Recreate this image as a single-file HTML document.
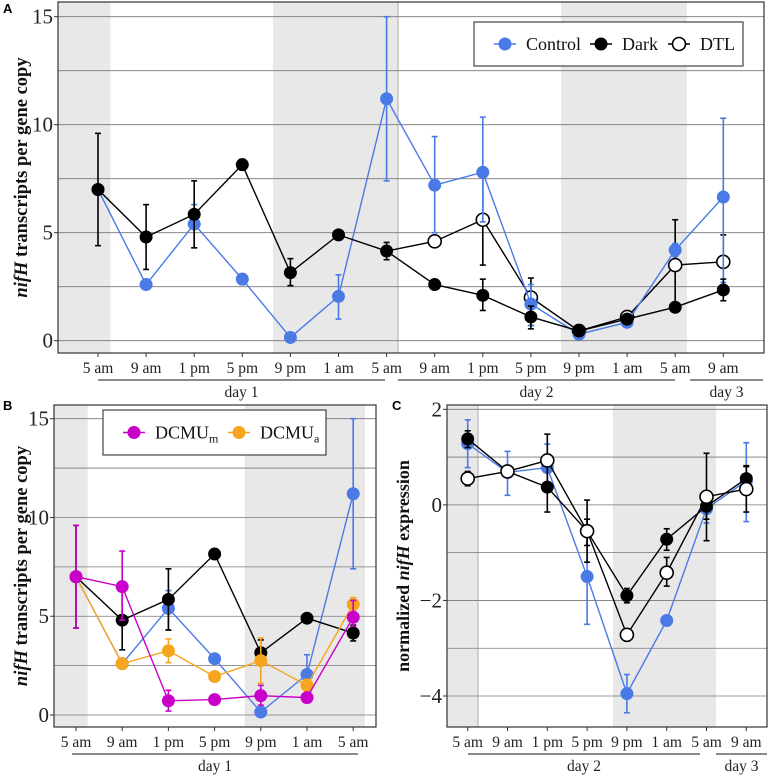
<!DOCTYPE html>
<html><head><meta charset="utf-8">
<style>
html,body{margin:0;padding:0;background:#fff;}
svg text{font-family:"Liberation Serif",serif;}
</style></head>
<body>
<svg id="fig" width="770" height="775" viewBox="0 0 770 775" xmlns="http://www.w3.org/2000/svg"></svg>
<script>
// ---------- data ----------
const timeLabelsA = ["5 am","9 am","1 pm","5 pm","9 pm","1 am","5 am","9 am","1 pm","5 pm","9 pm","1 am","5 am","9 am"];
const controlA = [7.0,2.6,5.4,2.85,0.15,2.05,11.2,7.2,7.8,1.7,0.3,0.85,4.2,6.65];
const controlALo = [null,null,4.3,2.6,null,1.0,7.4,5.0,5.5,0.7,null,null,3.9,2.7];
const controlAHi = [null,null,6.3,3.1,null,3.05,15.0,9.45,10.35,2.6,null,null,4.5,10.3];
const darkA = [7.0,4.8,5.85,8.15,3.15,4.9,4.15,2.6,2.1,1.1,0.45,1.0,1.55,2.35];
const darkALo = [4.4,3.3,4.3,7.9,2.55,null,3.75,null,1.4,0.55,null,null,null,1.85];
const darkAHi = [9.6,6.3,7.4,8.4,3.8,null,4.55,null,2.85,1.6,null,null,null,2.85];
const dtlA = [null,null,null,null,null,null,4.15,4.6,5.6,2.0,0.45,1.1,3.5,3.65];
const dtlALo = [null,null,null,null,null,null,null,null,3.5,0.7,null,null,1.5,2.5];
const dtlAHi = [null,null,null,null,null,null,null,null,7.7,2.9,null,null,5.6,4.9];
const yTicksA = [0,5,10,15];

const timeLabelsB = ["5 am","9 am","1 pm","5 pm","9 pm","1 am","5 am"];
const controlB = [7.0,2.6,5.4,2.85,0.15,2.05,11.2];
const controlBLo = [null,null,4.3,2.6,null,1.0,7.4];
const controlBHi = [null,null,6.3,3.1,null,3.05,15.0];
const darkB = [7.0,4.8,5.85,8.15,3.15,4.9,4.15];
const darkBLo = [4.4,3.3,4.3,7.9,2.55,null,3.75];
const darkBHi = [9.6,6.3,7.4,8.4,3.8,null,4.55];
const dcmuM = [7.0,6.5,0.72,0.78,0.98,0.88,4.95];
const dcmuMLo = [4.4,4.8,0.2,null,0.5,null,4.5];
const dcmuMHi = [9.6,8.3,1.25,null,1.5,null,5.8];
const dcmuA = [7.0,2.6,3.25,1.95,2.75,1.5,5.6];
const dcmuALo = [null,null,2.65,null,1.6,1.2,5.3];
const dcmuAHi = [null,null,3.85,null,3.9,1.8,5.95];
const yTicksB = [0,5,10,15];

const timeLabelsC = ["5 am","9 am","1 pm","5 pm","9 pm","1 am","5 am","9 am"];
const controlC = [1.28,0.68,0.78,-1.5,-3.95,-2.42,-0.08,0.5];
const controlCLo = [0.78,0.2,0.3,-2.5,-4.35,null,-0.38,-0.35];
const controlCHi = [1.78,1.12,1.27,-0.3,-3.55,null,0.2,1.3];
const darkC = [1.38,0.7,0.37,-0.55,-1.9,-0.72,-0.03,0.55];
const darkCLo = [1.2,null,-0.15,-0.85,-2.05,-0.95,-0.3,0.3];
const darkCHi = [1.55,null,0.9,-0.3,-1.75,-0.5,0.25,0.82];
const dtlC = [0.55,0.7,0.93,-0.55,-2.72,-1.42,0.17,0.33];
const dtlCLo = [0.4,null,0.4,-1.2,-2.85,-1.7,-0.75,-0.15];
const dtlCHi = [0.7,null,1.48,0.1,-2.6,-1.1,1.08,0.8];
const yTicksC = [-4,-2,0,2];

// ---------- helpers ----------
const NS="http://www.w3.org/2000/svg";
const svg=document.getElementById('fig');
function mk(tag,attrs,parent){const e=document.createElementNS(NS,tag);for(const k in attrs)e.setAttribute(k,attrs[k]);(parent||svg).appendChild(e);return e;}
const BLUE="#4a7ae6",BLACK="#000",MAG="#c800c8",ORG="#f5a51e";
const R=6.5;

function panel(cfg){
  const g=mk('g',{});
  
  
  const X=i=>cfg.x0+i*cfg.dx;
  const Y=v=>cfg.yA+(v-cfg.vA)*(cfg.yB-cfg.yA)/(cfg.vB-cfg.vA);
  cfg.shade.forEach(s=>{const r=mk('rect',{x:s[0],y:cfg.top,width:s[1]-s[0],height:cfg.bottom-cfg.top,fill:'#e8e8e8'},g);
    });
  cfg.grid.forEach(v=>{const l=mk('line',{x1:cfg.left,x2:cfg.right,y1:Y(v),y2:Y(v),stroke:'#777','stroke-width':0.8},g);
    });
  if(cfg.vline) mk('line',{x1:cfg.vline,x2:cfg.vline,y1:cfg.top,y2:cfg.bottom,stroke:'#999','stroke-width':0.8},g);
  mk('rect',{x:cfg.left,y:cfg.top,width:cfg.right-cfg.left,height:cfg.bottom-cfg.top,fill:'none',stroke:'#333','stroke-width':1.2},g);
  cfg.yticks.forEach(v=>{
    mk('line',{x1:cfg.left-4,x2:cfg.left,y1:Y(v),y2:Y(v),stroke:'#333'},g);
    const t=mk('text',{x:cfg.left-5,y:Y(v)+7,'text-anchor':'end','font-size':21,fill:'#222'},g);
    t.textContent=(v<0?'\u2212'+(-v):String(v));
    
  });
  cfg.labels.forEach((lab,i)=>{
    mk('line',{x1:X(i),x2:X(i),y1:cfg.bottom,y2:cfg.bottom+4,stroke:'#333'},g);
    const t=mk('text',{x:X(i),y:cfg.bottom+20,'text-anchor':'middle','font-size':15.5,fill:'#222'},g);
    t.textContent=lab;
    
  });
  cfg.days.forEach(d=>{
    mk('line',{x1:d[0],x2:d[1],y1:cfg.bottom+27,y2:cfg.bottom+27,stroke:'#444','stroke-width':1.2},g);
    const t=mk('text',{x:(d[0]+d[1])/2,y:cfg.bottom+44,'text-anchor':'middle','font-size':15.5,fill:'#222'},g);
    t.textContent=d[2];
    
  });
  const yt=mk('text',{transform:`translate(${cfg.ytx},${(cfg.top+cfg.bottom)/2}) rotate(-90)`,'text-anchor':'middle','font-size':cfg.ytsize,'font-weight':'bold',fill:'#111'},g);
  
  cfg.ytitle.forEach(p=>{const s=mk('tspan',{},yt);if(p[1])s.setAttribute('font-style','italic');s.textContent=p[0];});
  const pl=mk('text',{x:cfg.letter[1],y:cfg.letter[2],'font-size':13,'font-weight':'bold',style:'font-family:"Liberation Sans",sans-serif'},g);
  pl.textContent=cfg.letter[0];
  cfg.series.forEach(s=>{
    const sg=mk('g',{},g);
    
    let pts=[];s.v.forEach((v,i)=>{if(v!==null)pts.push(X(i)+','+Y(v));});
    mk('polyline',{points:pts.join(' '),fill:'none',stroke:s.color,'stroke-width':1.4},sg);
    s.v.forEach((v,i)=>{
      if(v===null)return;
      if(s.lo[i]!==null){
        mk('line',{x1:X(i),x2:X(i),y1:Y(s.lo[i]),y2:Y(s.hi[i]),stroke:s.color,'stroke-width':1.6},sg);
        [s.lo[i],s.hi[i]].forEach(e=>mk('line',{x1:X(i)-3,x2:X(i)+3,y1:Y(e),y2:Y(e),stroke:s.color,'stroke-width':1.6},sg));
      }
    });
    s.v.forEach((v,i)=>{
      if(v===null||(s.skip&&s.skip.includes(i)))return;
      const c=mk('circle',{cx:X(i),cy:Y(v),r:R,fill:s.open?'#fff':s.color,stroke:s.color,'stroke-width':s.open?1.6:0},sg);
      
    });
  });
  if(cfg.legend){
    const L=cfg.legend;
    const lg=mk('g',{},g);
    mk('rect',{x:L.x,y:L.y,width:L.w,height:L.h,fill:'#fff',stroke:'#444','stroke-width':1.2},lg);
    L.items.forEach(it=>{
      const eg=mk('g',{},lg);
      const cy=L.y+L.h/2;
      mk('line',{x1:it.x,x2:it.x+22,y1:cy,y2:cy,stroke:it.color,'stroke-width':1.6},eg);
      mk('circle',{cx:it.x+11,cy:cy,r:R,fill:it.open?'#fff':it.color,stroke:it.color,'stroke-width':it.open?1.6:0},eg);
      const t=mk('text',{x:it.x+32,y:cy+6,'font-size':18,fill:'#111'},eg);
      t.textContent=it.label;
      if(it.sub){const s=mk('tspan',{'font-size':12,dy:4},t);s.textContent=it.sub;}
    });
  }
}

panel({name:'panel-a',left:58,right:764,top:2,bottom:353,x0:98,dx:48.1,yA:340.7,vA:0,yB:16.7,vB:15,
  shade:[[58,110.5],[273,398],[561,687]],vline:398,grid:[0,2.5,5,7.5,10,12.5,15],yticks:yTicksA,labels:timeLabelsA,
  days:[[98,385,'day 1'],[398,675,'day 2'],[690,763,'day 3']],ytx:27,ytsize:18.5,
  ytitle:[['nifH',true],[' transcripts per gene copy',false]],letter:['A',3,13],
  series:[{name:'dtl-series',v:dtlA,lo:dtlALo,hi:dtlAHi,color:BLACK,open:true,skip:[6]},
          {name:'control-series',v:controlA,lo:controlALo,hi:controlAHi,color:BLUE},
          {name:'dark-series',v:darkA,lo:darkALo,hi:darkAHi,color:BLACK}],
  legend:{x:474,y:22,w:269,h:44,items:[{x:494,label:'Control',color:BLUE},{x:590,label:'Dark',color:BLACK},{x:668,label:'DTL',color:BLACK,open:true}]}
});
panel({name:'panel-b',left:54,right:376,top:405,bottom:727,x0:76,dx:46.2,yA:715,vA:0,yB:418.7,vB:15,
  shade:[[54,87.7],[244.7,365]],grid:[0,2.5,5,7.5,10,12.5,15],yticks:yTicksB,labels:timeLabelsB,
  days:[[72,358,'day 1']],ytx:27,ytsize:18.5,
  ytitle:[['nifH',true],[' transcripts per gene copy',false]],letter:['B',3,410],
  series:[{name:'control-series',v:controlB,lo:controlBLo,hi:controlBHi,color:BLUE},
          {name:'dark-series',v:darkB,lo:darkBLo,hi:darkBHi,color:BLACK},
          {name:'dcmu-a-series',v:dcmuA,lo:dcmuALo,hi:dcmuAHi,color:ORG},
          {name:'dcmu-m-series',v:dcmuM,lo:dcmuMLo,hi:dcmuMHi,color:MAG}],
  legend:{x:103,y:410,w:223,h:45,items:[{x:123,label:'DCMU',sub:'m',color:MAG},{x:228,label:'DCMU',sub:'a',color:ORG}]}
});
panel({name:'panel-c',left:447,right:767,top:405,bottom:727,x0:467.7,dx:39.8,yA:409.3,vA:2,yB:696,vB:-4,
  shade:[[447,478],[613,716]],vline:478,grid:[2,1,0,-1,-2,-3,-4],yticks:yTicksC,labels:timeLabelsC,
  days:[[468,700,'day 2'],[716,767,'day 3']],ytx:409,ytsize:18,
  ytitle:[['normalized ',false],['nifH',true],[' expression',false]],letter:['C',392,410],
  series:[{name:'control-series',v:controlC,lo:controlCLo,hi:controlCHi,color:BLUE},
          {name:'dark-series',v:darkC,lo:darkCLo,hi:darkCHi,color:BLACK},
          {name:'dtl-series',v:dtlC,lo:dtlCLo,hi:dtlCHi,color:BLACK,open:true}]
});
</script>
</body></html>
